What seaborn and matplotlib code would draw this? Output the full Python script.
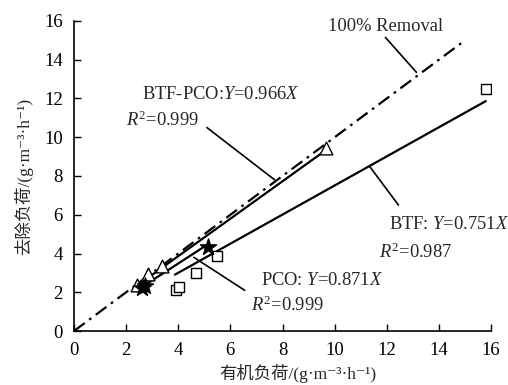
import matplotlib.pyplot as plt
import seaborn as sns
import pandas as pd
import numpy as np

sns.set_style("ticks")
plt.rcParams['font.family'] = ['Liberation Serif', 'Noto Sans CJK SC', 'DejaVu Sans']
plt.rcParams['mathtext.fontset'] = 'custom'
plt.rcParams['mathtext.rm'] = 'Liberation Serif'
plt.rcParams['mathtext.it'] = 'Liberation Serif:italic'

# Data
btf_x = [3.93, 4.02, 4.67, 5.47, 15.8]
btf_y = [2.1, 2.27, 3.0, 3.86, 12.47]
btfpco_x = [2.4, 2.85, 3.37, 9.65]
btfpco_y = [2.37, 2.94, 3.35, 9.43]
pco_x = [2.62, 2.72, 5.13]
pco_y = [2.22, 2.3, 4.33]

# Fitted slopes and line ranges
slope_btf, range_btf = 0.751, [3.87, 15.8]
slope_btfpco, range_btfpco = 0.966, [2.5, 9.6]
slope_pco, range_pco = 0.871, [2.6, 5.1]
removal_range = [0, 14.87]

fig = plt.figure(figsize=(5.08, 3.85), dpi=100)
ax = fig.add_axes([74 / 508, 1 - 331 / 385, 417 / 508, 310 / 385])

lw = 1.6
ax.plot(removal_range, removal_range, color='black', lw=lw, ls=(0, (6, 2.5, 1.2, 2.5)))
for slope, rng in [(slope_btf, range_btf), (slope_btfpco, range_btfpco), (slope_pco, range_pco)]:
    xs = np.array(rng)
    sns.lineplot(x=xs, y=slope * xs, color='black', lw=lw, ax=ax)

sns.scatterplot(x=btf_x, y=btf_y, marker='s', s=60, facecolor='white', edgecolor='black', linewidth=1.0, ax=ax, zorder=3)
sns.scatterplot(x=btfpco_x, y=btfpco_y, marker='^', s=85, facecolor='white', edgecolor='black', linewidth=1.0, ax=ax, zorder=3)
sns.scatterplot(x=pco_x, y=pco_y, marker='*', s=150, color='black', edgecolor='black', ax=ax, zorder=4)

ax.set_xlim(0, 16)
ax.set_ylim(0, 16)
ax.set_xticks(range(0, 17, 2))
ax.set_yticks(range(0, 17, 2))
ax.tick_params(direction='in', length=5, width=1, labelsize=13.5, colors='black')
ax.tick_params(axis='x', pad=8)
ax.tick_params(axis='y', pad=8)
for s in ['left', 'bottom']:
    ax.spines[s].set_linewidth(1.2)
    ax.spines[s].set_color('black')
sns.despine(ax=ax)

ax.set_xlabel('有机负荷/(g·m⁻³·h⁻¹)', fontsize=12.5)
ax.set_ylabel('去除负荷/(g·m⁻³·h⁻¹)', fontsize=12.5)
ax.xaxis.set_label_coords((298 - 74) / 417, -(364 - 331) / 310)
ax.yaxis.set_label_coords(-(74 - 33) / 417, 0.5)

fs = 13.3
ax.text(11.95, 15.7, '100% Removal', fontsize=fs, ha='center', va='center')
ax.plot([11.95, 13.14], [15.15, 13.35], color='black', lw=1.2)

ax.text(2.6, 12.2, 'BTF-PCO:$Y$=0.966$X$', fontsize=fs, ha='left', va='center')
ax.text(2.0, 10.9, '$R^2$=0.999', fontsize=fs, ha='left', va='center')
ax.plot([5.1, 7.7], [10.5, 7.8], color='black', lw=1.2)

ax.text(12.07, 5.5, 'BTF: $Y$=0.751$X$', fontsize=fs, ha='left', va='center')
ax.text(11.7, 4.07, '$R^2$=0.987', fontsize=fs, ha='left', va='center')
ax.plot([11.34, 12.45], [8.5, 6.5], color='black', lw=1.2)

ax.text(7.16, 2.63, 'PCO: $Y$=0.871$X$', fontsize=fs, ha='left', va='center')
ax.text(6.78, 1.34, '$R^2$=0.999', fontsize=fs, ha='left', va='center')
ax.plot([4.6, 6.55], [3.8, 2.1], color='black', lw=1.2)

fig.savefig('out.png', dpi=100)
